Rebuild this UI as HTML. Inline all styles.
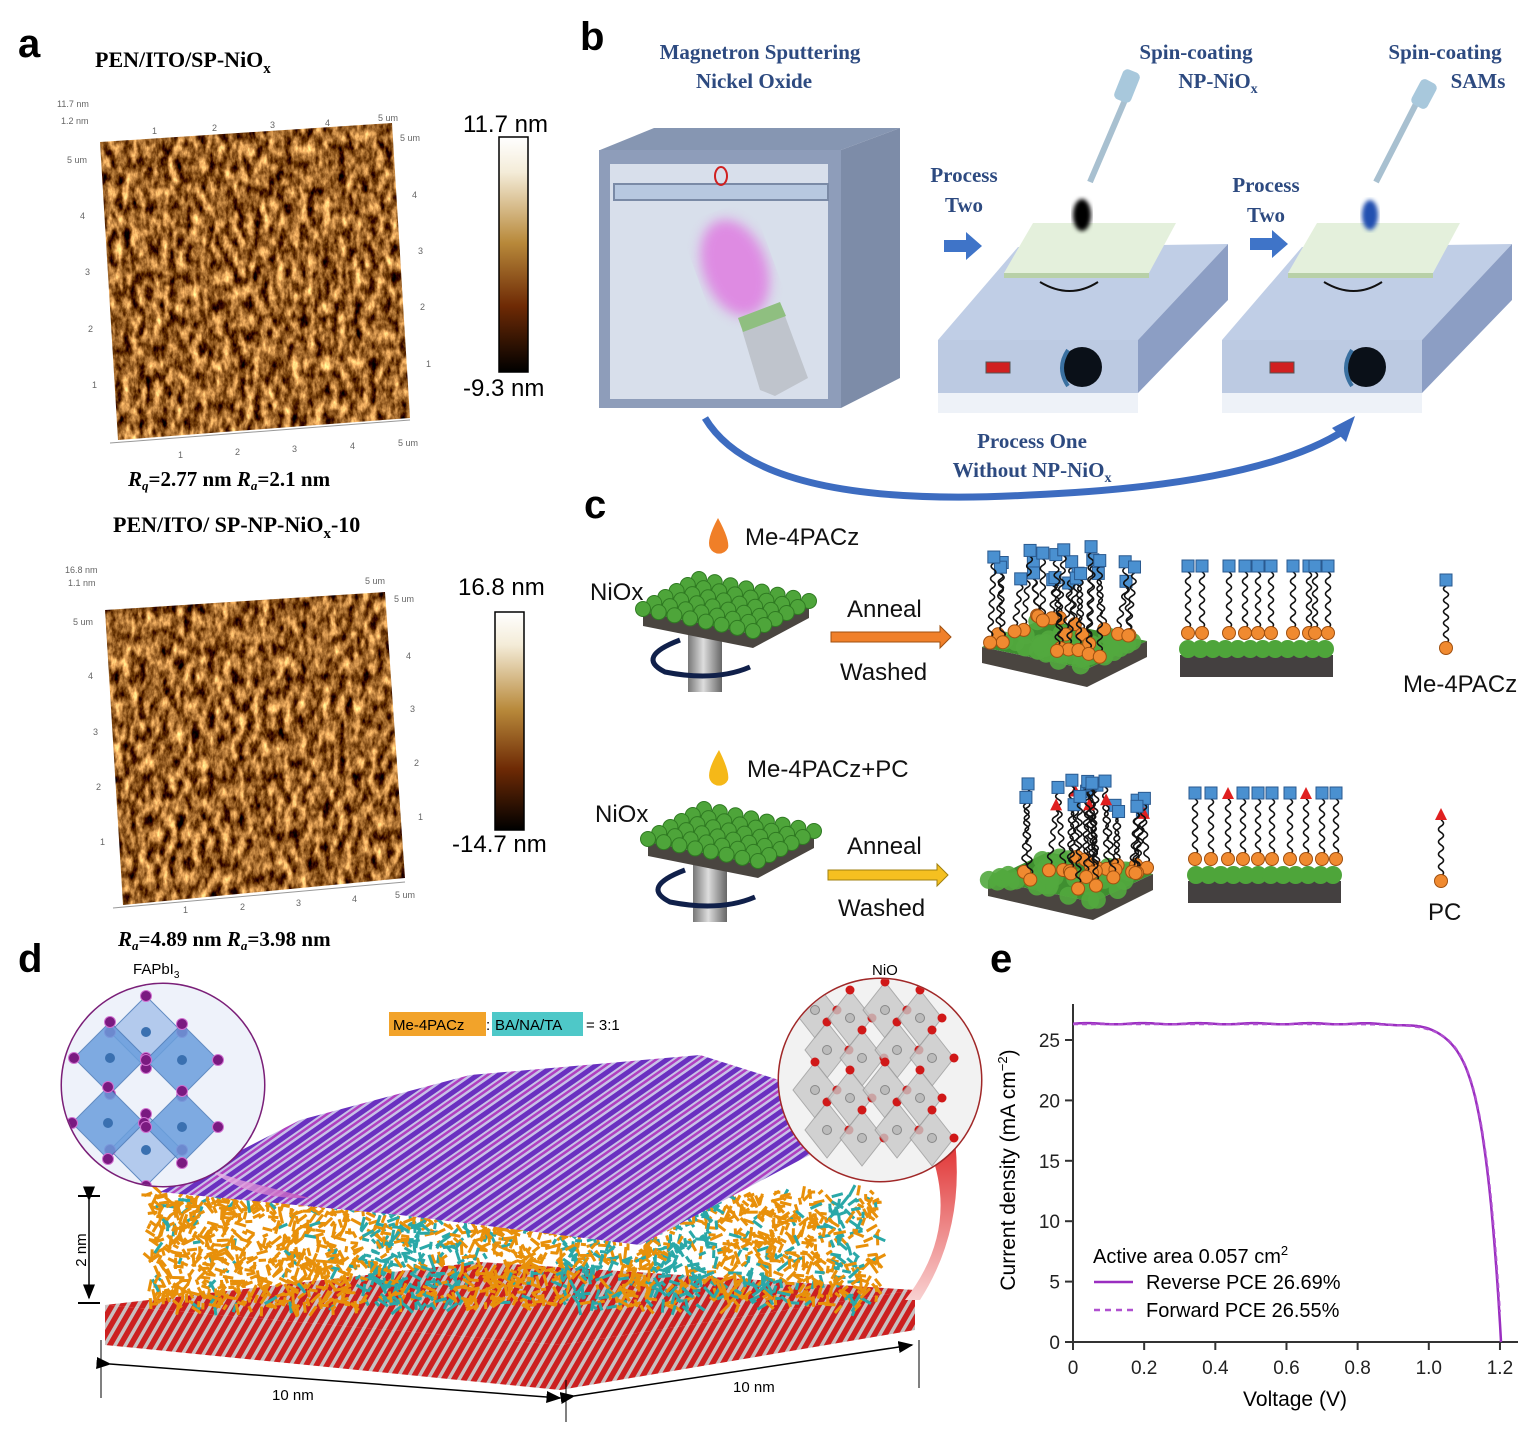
<!DOCTYPE html>
<html><head><meta charset="utf-8"><style>
html,body{margin:0;padding:0;background:#fff}
svg{display:block}
.ser{font-family:"Liberation Serif",serif;font-weight:bold}
.san{font-family:"Liberation Sans",sans-serif}
</style></head><body>
<svg id="s" width="1540" height="1432" viewBox="0 0 1540 1432" xmlns="http://www.w3.org/2000/svg">
<defs>
<filter id="afm" x="0" y="0" width="1" height="1" color-interpolation-filters="sRGB">
<feTurbulence type="fractalNoise" baseFrequency="0.13 0.07" numOctaves="4" seed="3"/>
<feColorMatrix type="matrix" values="1.8 0 0 0 -0.3  1.6 0 0 0 -0.42  1.2 0 0 0 -0.45  0 0 0 0 1"/>
<feComposite in2="SourceGraphic" operator="in"/>
</filter>
<filter id="afm2" x="0" y="0" width="1" height="1" color-interpolation-filters="sRGB">
<feTurbulence type="fractalNoise" baseFrequency="0.13 0.07" numOctaves="4" seed="9"/>
<feColorMatrix type="matrix" values="1.8 0 0 0 -0.3  1.6 0 0 0 -0.42  1.2 0 0 0 -0.45  0 0 0 0 1"/>
<feComposite in2="SourceGraphic" operator="in"/>
</filter>
<filter id="blur4"><feGaussianBlur stdDeviation="6"/></filter>
<filter id="blur2"><feGaussianBlur stdDeviation="2"/></filter>
<linearGradient id="cb" x1="0" y1="0" x2="0" y2="1">
<stop offset="0" stop-color="#fff"/><stop offset="0.15" stop-color="#f4ecd8"/><stop offset="0.45" stop-color="#b8893a"/><stop offset="0.72" stop-color="#6e2a05"/><stop offset="1" stop-color="#000"/></linearGradient>
<linearGradient id="cyl" x1="0" y1="0" x2="1" y2="0"><stop offset="0" stop-color="#777"/><stop offset="0.45" stop-color="#ddd"/><stop offset="1" stop-color="#666"/></linearGradient>
<linearGradient id="pinkw" x1="0" y1="0" x2="1" y2="0"><stop offset="0" stop-color="#f0c0ec"/><stop offset="1" stop-color="#c050b8"/></linearGradient>
<linearGradient id="redw" x1="0" y1="0" x2="0" y2="1"><stop offset="0" stop-color="#e03030"/><stop offset="1" stop-color="#f8d0d0"/></linearGradient>
<pattern id="purp" width="12" height="12" patternUnits="userSpaceOnUse" patternTransform="rotate(55)">
<rect width="12" height="12" fill="#c8c0e8"/><rect width="5" height="12" fill="#6a30c0"/><rect x="7" width="2.5" height="12" fill="#b040c0"/></pattern>
<pattern id="redp" width="9" height="9" patternUnits="userSpaceOnUse" patternTransform="rotate(30)">
<rect width="9" height="9" fill="#c8c0c0"/><rect width="5.5" height="9" fill="#cc2020"/></pattern>
<clipPath id="cl1"><circle cx="163" cy="1085" r="101"/></clipPath>
<clipPath id="cl2"><circle cx="880" cy="1080" r="101"/></clipPath>
<marker id="ah" markerWidth="10" markerHeight="8" refX="9" refY="4" orient="auto"><path d="M0,0 L10,4 L0,8 Z" fill="#000"/></marker>
</defs>

<!-- ===== Panel a ===== -->
<text x="18" y="57" class="san" font-size="40" font-weight="bold">a</text>
<text x="95" y="67" class="ser" font-size="22">PEN/ITO/SP-NiO<tspan font-size="15" dy="6">x</tspan></text>
<polygon points="100,142 392,123 410,418 118,440" fill="#000" filter="url(#afm)"/>
<g class="san" font-size="9" fill="#666">
<text x="57" y="107">11.7 nm</text><text x="61" y="124">1.2 nm</text><text x="67" y="163">5 um</text>
<text x="80" y="219">4</text><text x="85" y="275">3</text><text x="88" y="332">2</text><text x="92" y="388">1</text>
<text x="152" y="134">1</text><text x="212" y="131">2</text><text x="270" y="128">3</text><text x="325" y="126">4</text><text x="378" y="121">5 um</text>
<text x="400" y="141">5 um</text><text x="412" y="198">4</text><text x="418" y="254">3</text><text x="420" y="310">2</text><text x="426" y="367">1</text>
<text x="178" y="458">1</text><text x="235" y="455">2</text><text x="292" y="452">3</text><text x="350" y="449">4</text><text x="398" y="446">5 um</text>
</g>
<line x1="110" y1="443" x2="410" y2="420" stroke="#999"/>
<rect x="499" y="137" width="29" height="235" fill="url(#cb)" stroke="#000" stroke-width="1.5"/>
<text x="463" y="132" class="san" font-size="24">11.7 nm</text>
<text x="463" y="396" class="san" font-size="24">-9.3 nm</text>
<text x="128" y="486" class="ser" font-size="21"><tspan font-style="italic">R</tspan><tspan font-size="13" dy="4" font-style="italic">q</tspan><tspan dy="-4">=2.77 nm </tspan><tspan font-style="italic">R</tspan><tspan font-size="13" dy="4" font-style="italic">a</tspan><tspan dy="-4">=2.1 nm</tspan></text>
<text x="113" y="532" class="ser" font-size="22">PEN/ITO/ SP-NP-NiO<tspan font-size="15" dy="6">x</tspan><tspan dy="-6">-10</tspan></text>
<polygon points="105,610 385,592 405,878 123,905" fill="#000" filter="url(#afm2)"/>
<g class="san" font-size="9" fill="#666">
<text x="65" y="573">16.8 nm</text><text x="68" y="586">1.1 nm</text><text x="73" y="625">5 um</text>
<text x="88" y="679">4</text><text x="93" y="735">3</text><text x="96" y="790">2</text><text x="100" y="845">1</text>
<text x="365" y="584">5 um</text><text x="394" y="602">5 um</text><text x="406" y="659">4</text><text x="410" y="712">3</text><text x="414" y="766">2</text><text x="418" y="820">1</text>
<text x="183" y="913">1</text><text x="240" y="910">2</text><text x="296" y="906">3</text><text x="352" y="902">4</text><text x="395" y="898">5 um</text>
</g>
<line x1="113" y1="908" x2="405" y2="882" stroke="#999"/>
<rect x="495" y="612" width="29" height="218" fill="url(#cb)" stroke="#000" stroke-width="1.5"/>
<text x="458" y="595" class="san" font-size="24">16.8 nm</text>
<text x="452" y="852" class="san" font-size="24">-14.7 nm</text>
<text x="118" y="946" class="ser" font-size="21"><tspan font-style="italic">R</tspan><tspan font-size="13" dy="4" font-style="italic">a</tspan><tspan dy="-4">=4.89 nm </tspan><tspan font-style="italic">R</tspan><tspan font-size="13" dy="4" font-style="italic">a</tspan><tspan dy="-4">=3.98 nm</tspan></text>

<!-- ===== Panel b ===== -->
<text x="580" y="50" class="san" font-size="40" font-weight="bold">b</text>
<g class="ser" font-size="21" fill="#2d4a80">
<text x="760" y="59" text-anchor="middle">Magnetron Sputtering</text>
<text x="754" y="88" text-anchor="middle">Nickel Oxide</text>
<text x="1196" y="59" text-anchor="middle">Spin-coating</text>
<text x="1218" y="88" text-anchor="middle">NP-NiO<tspan font-size="14" dy="5">x</tspan></text>
<text x="1445" y="59" text-anchor="middle">Spin-coating</text>
<text x="1478" y="88" text-anchor="middle">SAMs</text>
<text x="964" y="182" text-anchor="middle">Process</text>
<text x="964" y="212" text-anchor="middle">Two</text>
<text x="1266" y="192" text-anchor="middle">Process</text>
<text x="1266" y="222" text-anchor="middle">Two</text>
<text x="1032" y="448" text-anchor="middle">Process One</text>
<text x="1032" y="477" text-anchor="middle">Without NP-NiO<tspan font-size="14" dy="5">x</tspan></text>
</g>
<polygon points="600,150 654,128 900,128 841,150" fill="#8696b2"/>
<polygon points="841,150 900,128 900,378 841,408" fill="#7d8ca8"/>
<rect x="599" y="150" width="242" height="258" fill="#8e9dba"/>
<rect x="610" y="164" width="218" height="235" fill="#d8dfeb"/>
<rect x="614" y="184" width="214" height="16" fill="#b7c8e0" stroke="#7a8aa6" stroke-width="2"/>
<ellipse cx="721" cy="176" rx="6" ry="9" fill="none" stroke="#d02020" stroke-width="2"/>
<ellipse cx="735" cy="268" rx="32" ry="50" transform="rotate(-20 735 268)" fill="#e070e0" opacity="0.75" filter="url(#blur4)"/>
<polygon points="742,330 785,316 808,378 775,396 760,390" fill="#bfc4cc"/>
<polygon points="738,318 780,302 786,316 743,332" fill="#8fbf80"/>
<polygon points="944,240 966,240 966,232 982,246 966,260 966,252 944,252" fill="#3f74c8"/>
<polygon points="1250,238 1272,238 1272,230 1288,244 1272,258 1272,250 1250,250" fill="#3f74c8"/>
<g id="coat">
<polygon points="938,340 1018,247 1228,244 1138,340" fill="#c0cee6"/>
<polygon points="1138,340 1228,244 1228,300 1138,393" fill="#8c9ec4"/>
<rect x="938" y="340" width="200" height="53" fill="#bccae2"/>
<rect x="938" y="393" width="200" height="20" fill="#eef2f8"/>
<polygon points="1004,273 1033,223 1176,223 1149,273" fill="#e4f0dc"/>
<polygon points="1004,273 1149,273 1149,278 1004,278" fill="#b8d0a8"/>
<path d="M1040,282 Q1070,300 1098,282" fill="none" stroke="#111" stroke-width="2"/>
<rect x="986" y="362" width="24" height="11" fill="#d02020" stroke="#555"/>
<circle cx="1082" cy="367" r="20" fill="#0a1018"/>
<path d="M1068,350 Q1056,368 1068,386" fill="none" stroke="#3a70a0" stroke-width="4"/>
</g>
<use href="#coat" x="284" y="0"/>
<line x1="1125" y1="100" x2="1090" y2="182" stroke="#a8c0d0" stroke-width="6"/>
<rect x="1118" y="70" width="18" height="32" rx="5" fill="#a8c8dc" transform="rotate(22 1127 86)"/>
<ellipse cx="1082" cy="215" rx="9" ry="16" fill="#000" filter="url(#blur2)"/>
<line x1="1418" y1="100" x2="1376" y2="182" stroke="#a8c0d0" stroke-width="6"/>
<rect x="1415" y="80" width="18" height="28" rx="5" fill="#a8c8dc" transform="rotate(28 1424 94)"/>
<ellipse cx="1370" cy="215" rx="8" ry="15" fill="#2050b0" filter="url(#blur2)"/>
<path d="M705,418 Q760,510 1030,495 Q1260,485 1345,430" fill="none" stroke="#3d6cc0" stroke-width="7"/>
<polygon points="1355,416 1332,428 1346,442" fill="#3d6cc0"/>

<!-- ===== Panel c ===== -->
<text x="584" y="518" class="san" font-size="40" font-weight="bold">c</text>
<g id="csrc"></g>
<g class="san" font-size="24" fill="#111">
<text x="745" y="545">Me-4PACz</text>
<text x="590" y="600">NiOx</text>
<text x="847" y="617">Anneal</text>
<text x="840" y="680">Washed</text>
<text x="1403" y="692">Me-4PACz</text>
<text x="747" y="777">Me-4PACz+PC</text>
<text x="595" y="822">NiOx</text>
<text x="847" y="854">Anneal</text>
<text x="838" y="916">Washed</text>
<text x="1428" y="920">PC</text>
</g>
<polygon points="831,632 940,632 940,626 951,637 940,648 940,642 831,642" fill="#f0802a" stroke="#a05010"/>
<polygon points="828,870 937,870 937,864 948,875 937,886 937,880 828,880" fill="#f5c020" stroke="#a08010"/>
<path d="M718,518 Q706,540 710,548 A10,10 0 0 0 728,548 Q730,540 718,518Z" fill="#f07f28"/>
<path d="M719,750 Q706,772 710,780 A10,10 0 0 0 728,780 Q730,772 719,750Z" fill="#f5b818"/>

<!-- ===== Panel d ===== -->
<text x="18" y="972" class="san" font-size="40" font-weight="bold">d</text>
<text x="133" y="974" class="san" font-size="15">FAPbI<tspan font-size="10" dy="4">3</tspan></text>
<text x="872" y="975" class="san" font-size="15">NiO</text>
<rect x="389" y="1012" width="97" height="24" fill="#f2a32a"/>
<rect x="492" y="1012" width="91" height="24" fill="#4ec8c8"/>
<text x="393" y="1030" class="san" font-size="15">Me-4PACz</text>
<text x="486" y="1030" class="san" font-size="15">:</text>
<text x="495" y="1030" class="san" font-size="15">BA/NA/TA</text>
<text x="586" y="1030" class="san" font-size="15">= 3:1</text>
<polygon points="105,1305 480,1262 915,1290 560,1345" fill="url(#redp)"/>
<polygon points="105,1305 560,1345 560,1390 105,1345" fill="url(#redp)"/>
<polygon points="560,1345 915,1290 915,1330 560,1390" fill="url(#redp)"/>
<g id="mols"></g>
<polygon points="160,1192 300,1120 470,1075 700,1055 890,1115 800,1160 640,1245 400,1215" fill="url(#purp)"/>
<path d="M210,1170 Q250,1200 310,1198 L240,1180 Z" fill="url(#pinkw)" opacity="0.8"/>
<path d="M930,1150 Q960,1230 905,1300 L920,1300 Q965,1230 955,1140 Z" fill="url(#redw)"/>
<circle cx="163" cy="1085" r="101" fill="#fff" stroke="#7a1f78" stroke-width="3"/>
<g clip-path="url(#cl1)" id="perov"></g>
<circle cx="880" cy="1080" r="101" fill="#fff" stroke="#a02828" stroke-width="3"/>
<g clip-path="url(#cl2)" id="nio"></g>
<line x1="78" y1="1196" x2="100" y2="1196" stroke="#000" stroke-width="2"/>
<line x1="78" y1="1303" x2="100" y2="1303" stroke="#000" stroke-width="2"/>
<line x1="89" y1="1200" x2="89" y2="1298" stroke="#000" stroke-width="1.5" marker-end="url(#ah)" marker-start="url(#ah)"/>
<text x="86" y="1250" class="san" font-size="15" transform="rotate(-90 86 1250)" text-anchor="middle">2 nm</text>
<line x1="101" y1="1340" x2="101" y2="1398" stroke="#000"/>
<line x1="566" y1="1380" x2="566" y2="1422" stroke="#000"/>
<line x1="919" y1="1340" x2="919" y2="1388" stroke="#000"/>
<line x1="110" y1="1364" x2="560" y2="1398" stroke="#000" stroke-width="1.5" marker-end="url(#ah)" marker-start="url(#ah)"/>
<line x1="574" y1="1396" x2="912" y2="1345" stroke="#000" stroke-width="1.5" marker-end="url(#ah)" marker-start="url(#ah)"/>
<text x="272" y="1400" class="san" font-size="15">10 nm</text>
<text x="733" y="1392" class="san" font-size="15">10 nm</text>

<!-- ===== Panel e ===== -->
<text x="990" y="972" class="san" font-size="40" font-weight="bold">e</text>
<line x1="1073" y1="1004" x2="1073" y2="1342" stroke="#333" stroke-width="2"/>
<line x1="1073" y1="1342" x2="1518" y2="1342" stroke="#333" stroke-width="2"/>
<g id="eax" class="san" font-size="19" fill="#222"></g>
<text x="1295" y="1406" class="san" font-size="21" text-anchor="middle">Voltage (V)</text>
<text x="1015" y="1170" class="san" font-size="21" text-anchor="middle" transform="rotate(-90 1015 1170)">Current density (mA cm<tspan font-size="13" dy="-8">−2</tspan><tspan dy="8">)</tspan></text>
<path id="jv" fill="none" stroke="#9a2ec0" stroke-width="2.5"/>
<path id="jv2" fill="none" stroke="#b050d0" stroke-width="2" stroke-dasharray="5,4"/>
<text x="1093" y="1263" class="san" font-size="20">Active area 0.057 cm<tspan font-size="13" dy="-8">2</tspan></text>
<line x1="1094" y1="1282" x2="1133" y2="1282" stroke="#9a2ec0" stroke-width="2.5"/>
<text x="1146" y="1289" class="san" font-size="20">Reverse PCE 26.69%</text>
<line x1="1094" y1="1310" x2="1133" y2="1310" stroke="#b050d0" stroke-width="2.5" stroke-dasharray="6,5"/>
<text x="1146" y="1317" class="san" font-size="20">Forward PCE 26.55%</text>
</svg>
<script>
var NS="http://www.w3.org/2000/svg";
function el(p,t,a){var e=document.createElementNS(NS,t);for(var k in a)e.setAttribute(k,a[k]);p.appendChild(e);return e;}
var seed=7;function rnd(){seed=(seed*16807)%2147483647;return seed/2147483647;}
var ax=document.getElementById('eax');
function X(v){return 1073+v*355.8;}function Y(j){return 1342-j*12.08;}
for(var i=0;i<=6;i++){var v=i*0.2;el(ax,'line',{x1:X(v),y1:1342,x2:X(v),y2:1350,stroke:'#333','stroke-width':2});
var t=el(ax,'text',{x:X(v),y:1374,'text-anchor':'middle'});t.textContent=(i==0?'0':(i==5?'1.0':v.toFixed(1)));}
for(var j=0;j<=25;j+=5){el(ax,'line',{x1:1065,y1:Y(j),x2:1073,y2:Y(j),stroke:'#333','stroke-width':2});
var t=el(ax,'text',{x:1060,y:Y(j)+7,'text-anchor':'end'});t.textContent=j;}
var d='',d2='';for(var v=0;v<=1.203;v+=0.005){var J=26.35*(1-Math.exp((v-1.203)/0.05))+0.05*Math.sin(v*40);if(J<0)J=0;d+=(d?'L':'M')+X(v).toFixed(1)+','+Y(J).toFixed(1);
var J2=26.3*(1-Math.exp((v-1.205)/0.05));if(J2<0)J2=0;d2+=(d2?'L':'M')+X(v).toFixed(1)+','+Y(J2).toFixed(1);}
d+='L'+X(1.203)+','+Y(0);
document.getElementById('jv').setAttribute('d',d);document.getElementById('jv2').setAttribute('d',d2);
var cs=document.getElementById('csrc');
function mol(x,yb,yt,tri,xt){if(xt===undefined)xt=x;
var s='M'+x+','+(yb-5),n=Math.max(2,Math.round((yb-yt-11)/6));for(var k=1;k<=n;k++){var f=k/n;var xx=x+(xt-x)*f,yy=yb-5-(yb-yt-11)*f;var xm=x+(xt-x)*(k-0.5)/n+(k%2?5:-5);s+='Q'+xm+','+(yy+(yb-yt-11)/n/2)+' '+xx+','+yy;}
el(cs,'path',{d:s,fill:'none',stroke:'#111','stroke-width':1.6});
if(tri)el(cs,'polygon',{points:(xt-6)+','+(yt+6)+' '+(xt+6)+','+(yt+6)+' '+xt+','+(yt-6),fill:'#e02020'});
else el(cs,'rect',{x:xt-6,y:yt-6,width:12,height:12,fill:'#4a90d0',stroke:'#2a5a90'});
el(cs,'circle',{cx:x,cy:yb,r:6.5,fill:'#f08a30',stroke:'#a05010'});}
function plate(cx,cy){
el(cs,'rect',{x:cx-17,y:cy+10,width:34,height:70,fill:'url(#cyl)'});
el(cs,'path',{d:'M'+(cx-25)+','+(cy+28)+' Q'+(cx-70)+','+(cy+45)+' '+(cx-40)+','+(cy+60)+' Q'+(cx+10)+','+(cy+70)+' '+(cx+45)+','+(cy+55),fill:'none',stroke:'#10204a','stroke-width':5});
var L=[cx-62,cy],B=[cx-6,cy-30],F=[cx+48,cy+22],R=[B[0]+F[0]-L[0],B[1]+F[1]-L[1]];
el(cs,'polygon',{points:L+' '+F+' '+R+' '+[R[0],R[1]+14]+' '+[F[0],F[1]+14]+' '+[L[0],L[1]+14],fill:'#4a4540'});
el(cs,'polygon',{points:L+' '+B+' '+R+' '+F,fill:'#3a8a2a'});
for(var w=0;w<6;w++)for(var u=0;u<8;u++){var x=L[0]+(B[0]-L[0])*(1-w/5)+(F[0]-L[0])*(u/7),y=L[1]+(B[1]-L[1])*(1-w/5)+(F[1]-L[1])*(u/7);
el(cs,'circle',{cx:x,cy:y-3,r:7.5,fill:'#4ea53a',stroke:'#2f7a22','stroke-width':1});}}
plate(705,612);plate(710,842);
function block3(x0,y0,tri){var L=[x0,y0+10],B=[x0+60,y0-18],F=[x0+105,y0+32],R=[B[0]+F[0]-L[0],B[1]+F[1]-L[1]];
el(cs,'polygon',{points:L+' '+F+' '+R+' '+[R[0],R[1]+16]+' '+[F[0],F[1]+18]+' '+[L[0],L[1]+16],fill:'#4a4540'});
el(cs,'polygon',{points:L+' '+B+' '+R+' '+F,fill:'#3f8f30'});
for(var i=0;i<40;i++){var u=rnd(),w=rnd();el(cs,'circle',{cx:L[0]+(B[0]-L[0])*w+(F[0]-L[0])*u,cy:L[1]+(B[1]-L[1])*w+(F[1]-L[1])*u,r:9,fill:'#52a83e',opacity:0.9});}
var ms=[];for(var i=0;i<24;i++){var u=rnd(),w=rnd();ms.push([L[0]+(B[0]-L[0])*w+(F[0]-L[0])*u,L[1]+(B[1]-L[1])*w+(F[1]-L[1])*u-6]);}
ms.sort(function(a,b){return a[1]-b[1];});
ms.forEach(function(p,i){var xt=p[0]-8+rnd()*16;var yt=y0-90+rnd()*35-(p[1]-y0)*0.3;mol(p[0],p[1],yt,tri&&i%5==0,xt);});}
block3(982,637,false);block3(988,870,true);
function flat(x0,x1,yb,n,yt,tris){el(cs,'rect',{x:x0,y:yb+8,width:x1-x0,height:22,fill:'#444040'});
for(var i=0;i<12;i++)el(cs,'circle',{cx:x0+8+i*(x1-x0-16)/11,cy:yb+2,r:9,fill:'#4ea53a'});
for(var i=0;i<n.length;i++)mol(n[i],yb-14,yt,tris.indexOf(i)>=0);}
flat(1180,1333,647,[1188,1202,1229,1245,1258,1271,1293,1309,1315,1328],566,[]);
flat(1188,1341,873,[1195,1211,1228,1243,1258,1272,1290,1306,1322,1336],793,[2,7]);
mol(1446,648,580,false);mol(1441,881,814,true);
var m=document.getElementById('mols');
for(var i=0;i<2400;i++){var x=150+rnd()*730,y=1192+rnd()*115;var cyan=(x>360&&x<470)||(x>560&&x<620)||(x>650&&x<720)||(x>740&&x<790&&y>1250)||(x>830&&x<860);
var col=(cyan&&rnd()<0.6)?'#2aa8a8':'#e8900a';if(rnd()<0.08)col='#2aa8a8';
var a=rnd()*6.28,l=5+rnd()*9;el(m,'line',{x1:x,y1:y,x2:x+Math.cos(a)*l,y2:y+Math.sin(a)*l,stroke:col,'stroke-width':3});}
var p=document.getElementById('perov');
el(p,'rect',{x:60,y:980,width:210,height:210,fill:'#eef2fa'});
[[146,1032],[146,1150],[110,1058],[182,1060],[108,1123],[182,1127]].forEach(function(c,k){var s=36;
el(p,'polygon',{points:(c[0])+','+(c[1]-s)+' '+(c[0]+s)+','+c[1]+' '+c[0]+','+(c[1]+s)+' '+(c[0]-s)+','+c[1],fill:k<2?'#a8c4ea':'#6a9edc',opacity:0.85,stroke:'#4a7ab8'});
el(p,'circle',{cx:c[0],cy:c[1],r:5,fill:'#3a70b0'});
[[0,-s],[s,0],[0,s],[-s,0]].forEach(function(o){el(p,'circle',{cx:c[0]+o[0],cy:c[1]+o[1],r:5.5,fill:'#7a1a80',stroke:'#d070d0'});});});
var q=document.getElementById('nio');
el(q,'rect',{x:770,y:970,width:220,height:220,fill:'#f2f2f2'});
for(var a=0;a<4;a++)for(var b=0;b<4;b++){var x=815+a*35+(b%2)*12,y=1010+b*40+(a%2)*8;
el(q,'polygon',{points:x+','+(y-28)+' '+(x+22)+','+y+' '+x+','+(y+28)+' '+(x-22)+','+y,fill:'#c8c8c8',stroke:'#999',opacity:0.8});
el(q,'circle',{cx:x,cy:y,r:4.5,fill:'#bbb',stroke:'#888'});
el(q,'circle',{cx:x,cy:y-28,r:4.5,fill:'#d01818'});el(q,'circle',{cx:x+22,cy:y,r:4.5,fill:'#d01818'});}
</script>
</body></html>
